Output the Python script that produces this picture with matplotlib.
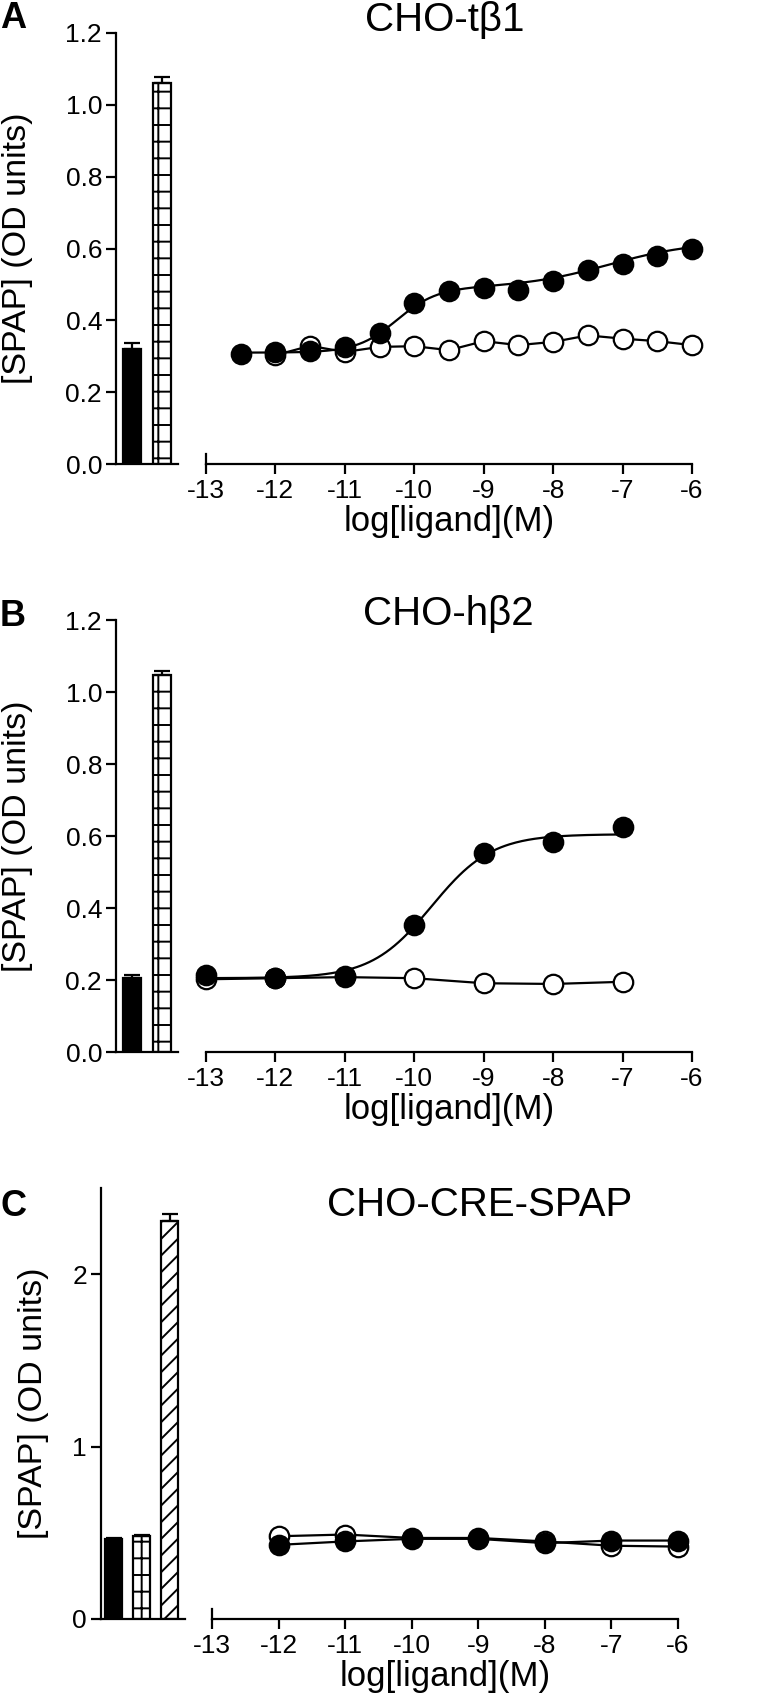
import numpy as np
import matplotlib.pyplot as plt

plt.rcParams['font.family'] = ['Liberation Sans', 'DejaVu Sans']
plt.rcParams['axes.unicode_minus'] = False
plt.rcParams['hatch.linewidth'] = 1.4

W, H = 776, 1707

# Panel A: CHO-tβ1
a_bar_vals = [0.32, 1.06]
a_bar_errs = [0.016, 0.018]
a_fill_x = [-12.5, -12, -11.5, -11, -10.5, -10, -9.5, -9, -8.5, -8, -7.5, -7, -6.5, -6]
a_fill_y = [0.307, 0.312, 0.315, 0.326, 0.365, 0.448, 0.481, 0.490, 0.485, 0.509, 0.539, 0.557, 0.578, 0.598]
a_open_x = [-12, -11.5, -11, -10.5, -10, -9.5, -9, -8.5, -8, -7.5, -7, -6.5, -6]
a_open_y = [0.303, 0.329, 0.312, 0.326, 0.328, 0.317, 0.342, 0.331, 0.340, 0.358, 0.349, 0.342, 0.331]
# biphasic fit: bottom, span1, logEC1, slope1, span2, logEC2, slope2
a_fit = [0.31, 0.18, -10.25, 1.5, 0.13, -7.2, 0.7]

# Panel B: CHO-hβ2
b_bar_vals = [0.205, 1.047]
b_bar_errs = [0.008, 0.011]
b_fill_x = [-13, -12, -11, -10, -9, -8, -7]
b_fill_y = [0.214, 0.205, 0.211, 0.353, 0.552, 0.584, 0.624]
b_open_x = [-13, -12, -11, -10, -9, -8, -7]
b_open_y = [0.202, 0.205, 0.208, 0.205, 0.191, 0.189, 0.195]
# sigmoid fit: bottom, top, logEC50, slope
b_fit = [0.205, 0.605, -9.75, 1.0]

# Panel C: CHO-CRE-SPAP
c_bar_vals = [0.465, 0.48, 2.31]
c_bar_errs = [0.005, 0.01, 0.04]
c_fill_x = [-12, -11, -10, -9, -8, -7, -6]
c_fill_y = [0.43, 0.45, 0.465, 0.465, 0.44, 0.455, 0.455]
c_open_x = [-12, -11, -10, -9, -8, -7, -6]
c_open_y = [0.48, 0.49, 0.47, 0.47, 0.45, 0.425, 0.42]

bar_hatches = [None, '+', '//']
bar_colors = ['black', 'white', 'white']
x_ticks = list(range(-13, -5))


def px_axes(fig, x0, x1, ytop, ybot):
    return fig.add_axes([x0 / W, 1 - ybot / H, (x1 - x0) / W, (ybot - ytop) / H])


def biphasic(x, p):
    b, a1, e1, h1, a2, e2, h2 = p
    return b + a1 / (1 + 10 ** ((e1 - x) * h1)) + a2 / (1 + 10 ** ((e2 - x) * h2))


def sigmoid(x, p):
    bot, top, ec, h = p
    return bot + (top - bot) / (1 + 10 ** ((ec - x) * h))


def style_bar_axis(ax, ylim, yticks, fmt, xlim):
    for s in ['top', 'right']:
        ax.spines[s].set_visible(False)
    for s in ['left', 'bottom']:
        ax.spines[s].set_linewidth(1.6)
    ax.set_xlim(xlim)
    ax.set_ylim(ylim)
    ax.set_xticks([])
    ax.set_yticks(yticks)
    ax.set_yticklabels([fmt.format(v) for v in yticks])
    ax.tick_params(axis='y', direction='out', length=7, width=1.6, labelsize=19, pad=3)


def draw_bars(ax, vals, errs):
    for i in range(len(vals)):
        ax.bar(i, vals[i], width=0.6, color=bar_colors[i], edgecolor='black',
               linewidth=1.6, hatch=bar_hatches[i], zorder=2)
        ax.errorbar(i, vals[i], yerr=[[0], [errs[i]]], color='black', capsize=6,
                    capthick=1.6, elinewidth=1.6, zorder=3)


def style_curve_axis(ax, ylim, cap_frac):
    for s in ['top', 'right', 'left']:
        ax.spines[s].set_visible(False)
    ax.spines['bottom'].set_linewidth(1.6)
    ax.set_xlim(-13, -6)
    ax.set_ylim(ylim)
    ax.set_yticks([])
    ax.set_xticks(x_ticks)
    ax.set_xticklabels([str(v) for v in x_ticks])
    ax.tick_params(axis='x', direction='out', length=7, width=1.6, labelsize=19, pad=4)
    ax.axvline(-13, ymin=0, ymax=cap_frac, color='black', lw=1.6, clip_on=False)
    ax.set_xlabel('log[ligand](M)', fontsize=25, labelpad=1)


def draw_points(ax, ox, oy, fx, fy, fit_x=None, fit_y=None):
    ax.plot(ox, oy, '-', color='black', lw=1.6, zorder=3)
    ax.plot(ox, oy, 'o', ms=14, mfc='white', mec='black', mew=1.6, zorder=4, clip_on=False)
    if fit_x is None:
        ax.plot(fx, fy, '-', color='black', lw=1.6, zorder=5)
    else:
        ax.plot(fit_x, fit_y, '-', color='black', lw=1.6, zorder=5)
    ax.plot(fx, fy, 'o', ms=14, mfc='black', mec='black', mew=1.6, zorder=6, clip_on=False)


fig = plt.figure(figsize=(W / 100, H / 100), dpi=100)

# ---- A
ax = px_axes(fig, 116, 178, 33, 464)
style_bar_axis(ax, (0, 1.2), [0, 0.2, 0.4, 0.6, 0.8, 1.0, 1.2], '{:.1f}', (-0.53, 1.53))
draw_bars(ax, a_bar_vals, a_bar_errs)
ax = px_axes(fig, 206, 692, 33, 464)
style_curve_axis(ax, (0, 1.2), 10 / 431)
xs = np.linspace(a_fill_x[0], a_fill_x[-1], 200)
draw_points(ax, a_open_x, a_open_y, a_fill_x, a_fill_y, xs, biphasic(xs, a_fit))

# ---- B
ax = px_axes(fig, 116, 178, 620, 1052)
style_bar_axis(ax, (0, 1.2), [0, 0.2, 0.4, 0.6, 0.8, 1.0, 1.2], '{:.1f}', (-0.53, 1.53))
draw_bars(ax, b_bar_vals, b_bar_errs)
ax = px_axes(fig, 206, 692, 620, 1052)
style_curve_axis(ax, (0, 1.2), 0)
xs = np.linspace(b_fill_x[0], b_fill_x[-1], 200)
draw_points(ax, b_open_x, b_open_y, b_fill_x, b_fill_y, xs, sigmoid(xs, b_fit))

# ---- C
ax = px_axes(fig, 101, 185, 1188, 1619)
style_bar_axis(ax, (0, 2.5), [0, 1, 2], '{:d}', (-0.46, 2.54))
draw_bars(ax, c_bar_vals, c_bar_errs)
ax = px_axes(fig, 212, 678, 1188, 1619)
style_curve_axis(ax, (0, 2.5), 10 / 431)
draw_points(ax, c_open_x, c_open_y, c_fill_x, c_fill_y)

# titles, panel letters, y labels
titles = ['CHO-tβ1', 'CHO-hβ2', 'CHO-CRE-SPAP']
title_pos = [(445, 20), (448, 614), (480, 1205)]
letters = ['A', 'B', 'C']
letter_pos = [(13, 18), (13, 617), (13, 1207)]
ylab_pos = [(18, 248), (18, 836), (34, 1403)]
for i in range(3):
    fig.text(title_pos[i][0] / W, 1 - title_pos[i][1] / H, titles[i], fontsize=29,
             ha='center', va='center')
    fig.text(letter_pos[i][0] / W, 1 - letter_pos[i][1] / H, letters[i], fontsize=26,
             fontweight='bold', ha='center', va='center')
    fig.text(ylab_pos[i][0] / W, 1 - ylab_pos[i][1] / H, '[SPAP] (OD units)', fontsize=24.5,
             rotation=90, ha='center', va='center')

fig.savefig('out.png', dpi=100)
